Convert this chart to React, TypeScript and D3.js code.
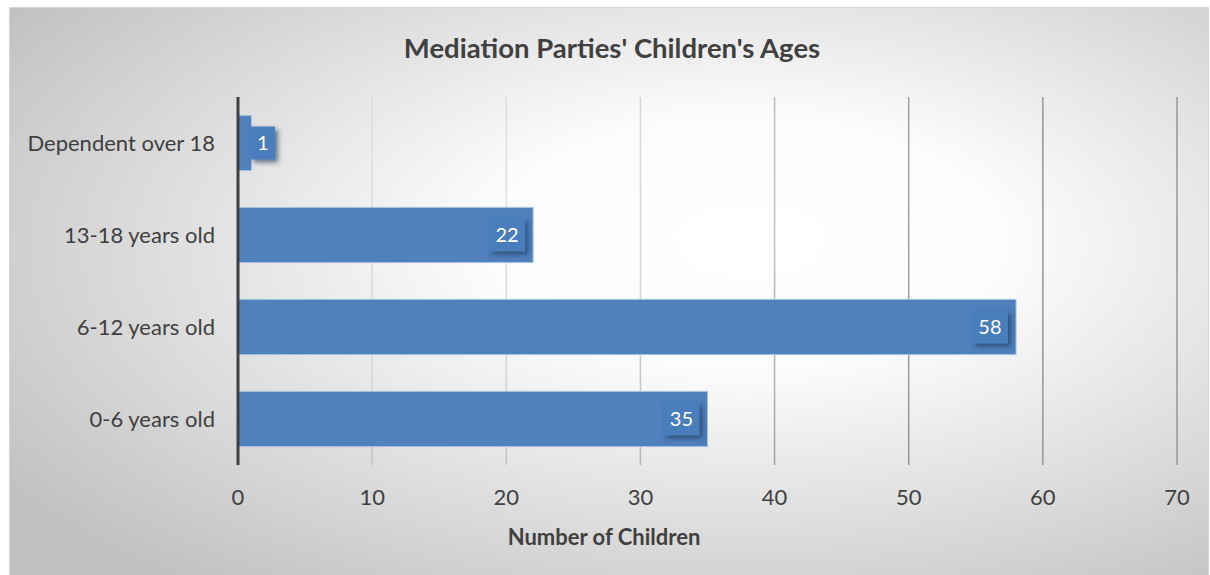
import React from "react";
import * as d3 from "d3";

const categories = ["0-6 years old", "6-12 years old", "13-18 years old", "Dependent over 18"];
const values = [35, 58, 22, 1];
const xTicks = [0, 10, 20, 30, 40, 50, 60, 70];
const title = "Mediation Parties' Children's Ages";
const xTitle = "Number of Children";

const W = 1210;
const H = 575;
const FONT = "Lato, 'Open Sans', sans-serif";

export default function App() {
  const x = d3.scaleLinear().domain([0, 70]).range([238, 1177]);
  const y = d3
    .scaleBand<string>()
    .domain([...categories].reverse())
    .range([97, 465])
    .paddingInner(0.4)
    .paddingOuter(0.2);
  const bw = y.bandwidth();
  const labelFont = 20;
  const digitW = labelFont * 0.58;

  return (
    <svg
      width={W}
      height={H}
      style={{ position: "absolute", left: 0, top: 0 }}
      fontFamily={FONT}
    >
      <defs>
        <radialGradient id="bg" cx="0.6" cy="0.42" r="0.72" fx="0.62" fy="0.4">
          <stop offset="0" stopColor="#ffffff" />
          <stop offset="0.3" stopColor="#fcfcfc" />
          <stop offset="1" stopColor="#c2c2c2" />
        </radialGradient>
        <radialGradient id="grid" gradientUnits="userSpaceOnUse" cx={460} cy={170} r={520}>
          <stop offset="0" stopColor="#e4e4e4" />
          <stop offset="0.45" stopColor="#d2d2d2" />
          <stop offset="0.8" stopColor="#a6a6a6" />
          <stop offset="1" stopColor="#969696" />
        </radialGradient>
        <filter id="shadow" x="-30%" y="-30%" width="170%" height="170%">
          <feDropShadow dx="3" dy="3" stdDeviation="2.5" floodColor="#1c3556" floodOpacity="0.65" />
        </filter>
      </defs>
      <rect x={9.5} y={7.5} width={1199} height={580} fill="url(#bg)" stroke="#d4d4d4" strokeWidth={1} />

      <text x={612} y={58} textAnchor="middle" fontSize={27.5} fontWeight={700} fill="#404040">
        {title}
      </text>

      {xTicks.map((t) => (
        <line
          key={"g" + t}
          x1={x(t)}
          x2={x(t)}
          y1={97}
          y2={465}
          stroke="url(#grid)"
          strokeWidth={1.5}
        />
      ))}

      {categories.map((c, i) => (
        <rect
          key={"b" + c}
          x={x(0)}
          y={y(c)!}
          width={x(values[i]) - x(0)}
          height={bw}
          fill="#4f81bd"
          stroke="#a9c2df"
          strokeWidth={1}
        />
      ))}

      <line x1={x(0)} x2={x(0)} y1={97} y2={465} stroke="#404040" strokeWidth={3} />

      {categories.map((c, i) => {
        const txt = String(values[i]);
        const bwid = txt.length * digitW + 13;
        const bh = 33;
        const end = x(values[i]);
        const fits = end - x(0) > bwid + 16;
        const bx = fits ? end - 8 - bwid : end - 1;
        const cy = y(c)! + bw / 2;
        return (
          <g key={"l" + c}>
            <rect x={bx} y={cy - bh / 2} width={bwid} height={bh} fill="#4a7dbb" filter="url(#shadow)" />
            <text
              x={bx + bwid / 2}
              y={cy + labelFont * 0.36}
              textAnchor="middle"
              fontSize={labelFont}
              fill="#ffffff"
            >
              {txt}
            </text>
          </g>
        );
      })}

      {categories.map((c) => (
        <text
          key={"c" + c}
          x={215}
          y={y(c)! + bw / 2 + 7.5}
          textAnchor="end"
          fontSize={22}
          fill="#404040"
        >
          {c}
        </text>
      ))}

      {xTicks.map((t) => (
        <text key={"t" + t} x={x(t)} y={505} textAnchor="middle" fontSize={22} fill="#404040">
          {t}
        </text>
      ))}

      <text x={604} y={545} textAnchor="middle" fontSize={22} fontWeight={700} fill="#404040">
        {xTitle}
      </text>
    </svg>
  );
}
